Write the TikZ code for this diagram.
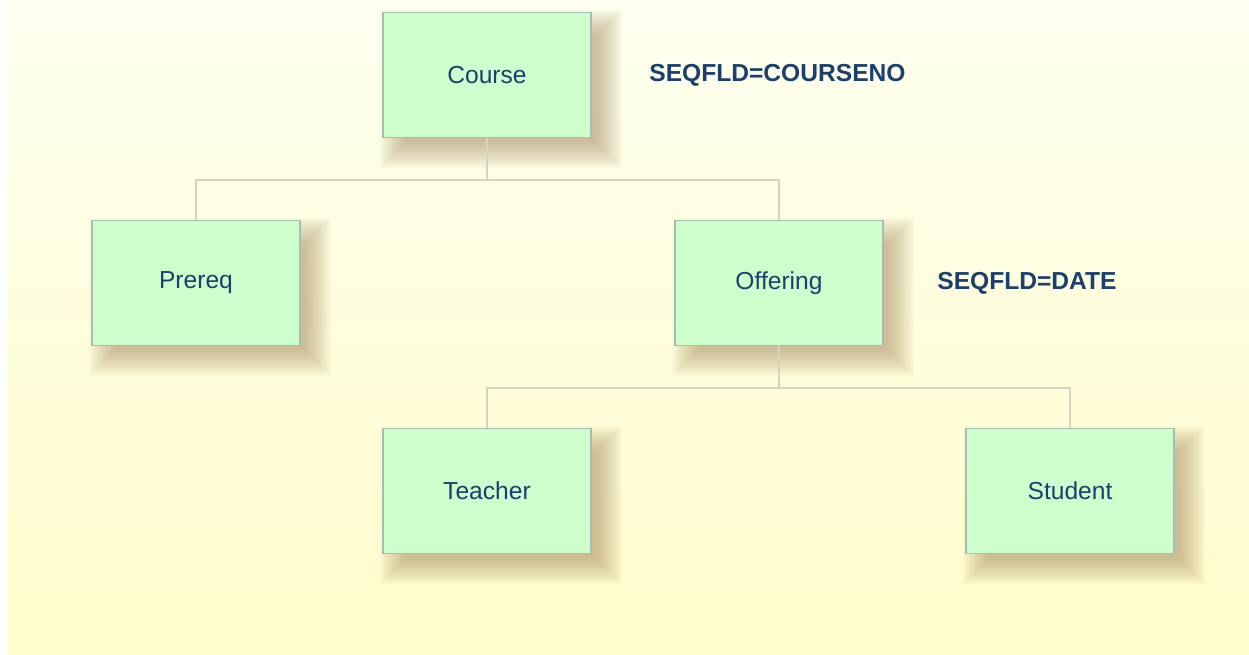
\documentclass[tikz,border=0pt]{standalone}
\usepackage{fontspec}
\setmainfont{Liberation Sans}
\usepackage{xcolor}
\usetikzlibrary{calc}
\definecolor{boxFill}{HTML}{CCFFCC}
\definecolor{boxLine}{HTML}{A8BCB4}
\definecolor{textBlue}{HTML}{1B3F6E}
\definecolor{wireGray}{HTML}{D4D4C4}
\definecolor{shadowBrown}{HTML}{A88A60}
\definecolor{bgTop}{HTML}{FEFFEF}
\definecolor{bgBottom}{HTML}{FFFDCB}
% Soft shadow behind a node
% 1: node name
\newcommand{\boxShadow}[1]{
    \foreach \r in {16,14,...,-10}{
        \fill[shadowBrown,opacity=0.05] ($(#1.south west)+(14-\r,-14-\r)$) rectangle ($(#1.north east)+(14+\r,-14+\r)$);
    }
}
\begin{document}
\begin{tikzpicture}[x=0.02cm,y=0.02cm]
% define a segment box
\tikzset{segBox/.style={rectangle,draw=boxLine,fill=boxFill,line width=0.6pt,
    minimum width=4.16cm,minimum height=2.5cm,inner sep=0pt,text=textBlue,
    font=\fontsize{14}{16}\selectfont}}
\tikzset{seqLabel/.style={anchor=west,text=textBlue,inner sep=0pt,
    font=\fontsize{14}{16}\selectfont\bfseries}}
\tikzset{wire/.style={draw=wireGray,line width=0.8pt}}

%% CONFIG
\def\busDrop{42}

% Background
\useasboundingbox (0,0) rectangle (1249,654);
\shade[top color=bgTop,bottom color=bgBottom] (8,0) rectangle (1249,654);

% Place the segments (invisible first, for the shadows)
\path (487,579) coordinate (courseC) (196,371) coordinate (prereqC)
      (779,371) coordinate (offeringC) (487,163) coordinate (teacherC)
      (1070,163) coordinate (studentC);
\foreach \seg/\txt in {course/Course,prereq/Prereq,offering/Offering,teacher/Teacher,student/Student}{
    \path (\seg C) node[segBox,draw=none,fill=none,text opacity=0] (\seg S) {\txt};
    \boxShadow{\seg S}
}

% Draw the segments
\node[segBox] (course) at (courseC) {Course};
\node[segBox] (prereq) at (prereqC) {Prereq};
\node[segBox] (offering) at (offeringC) {Offering};
\node[segBox] (teacher) at (teacherC) {Teacher};
\node[segBox] (student) at (studentC) {Student};

% Sequence field labels
\node[seqLabel] (seqCourse) at (649,579) {SEQFLD=COURSENO};
\node[seqLabel] (seqOffering) at (937,371) {SEQFLD=DATE};

% Connectors
\coordinate (busA) at ($(course.south)+(0,-\busDrop)$);
\coordinate (busB) at ($(offering.south)+(0,-\busDrop)$);
\draw[wire] (course.south) -- (busA) -| (prereq.north);
\draw[wire] (busA) -| (offering.north);
\draw[wire] (offering.south) -- (busB) -| (teacher.north);
\draw[wire] (busB) -| (student.north);

\end{tikzpicture}
\end{document}
